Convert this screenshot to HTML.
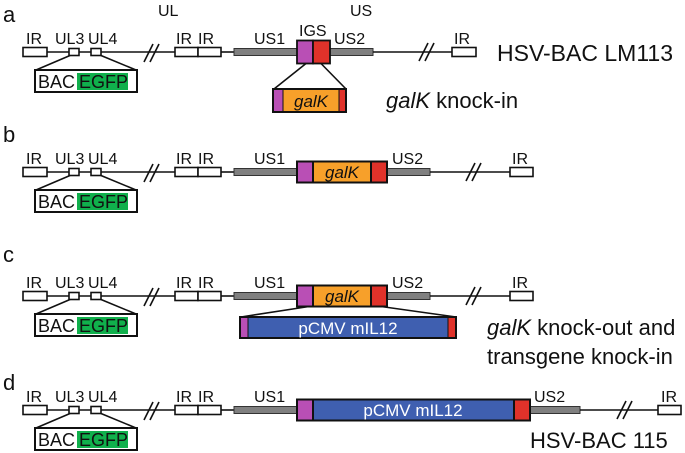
<!DOCTYPE html>
<html><head><meta charset="utf-8"><style>
body{margin:0;background:#fff}
svg{display:block;font-family:"Liberation Sans",sans-serif}
</style></head><body>
<svg width="685" height="453" viewBox="0 0 685 453" xmlns="http://www.w3.org/2000/svg">
<defs>
<g id="left">
  <line x1="47" y1="0" x2="175" y2="0" stroke="#111" stroke-width="1.6"/>
  <rect x="23" y="-4.5" width="24" height="9" fill="#fff" stroke="#111" stroke-width="1.6"/>
  <rect x="69" y="-3.5" width="10" height="7" fill="#fff" stroke="#111" stroke-width="1.6"/>
  <rect x="91" y="-3.5" width="10" height="7" fill="#fff" stroke="#111" stroke-width="1.6"/>
  <line x1="144" y1="10" x2="153" y2="-8" stroke="#111" stroke-width="1.6"/>
  <line x1="150" y1="10" x2="159" y2="-8" stroke="#111" stroke-width="1.6"/>
  <rect x="175" y="-4.5" width="23" height="9" fill="#fff" stroke="#111" stroke-width="1.6"/>
  <rect x="198" y="-4.5" width="23" height="9" fill="#fff" stroke="#111" stroke-width="1.6"/>
  <line x1="221" y1="0" x2="234" y2="0" stroke="#111" stroke-width="1.6"/>
  <rect x="234" y="-3.5" width="63" height="7" fill="#808080" stroke="#333" stroke-width="1"/>
  <line x1="70" y1="3.5" x2="36" y2="18" stroke="#111" stroke-width="1.6"/>
  <line x1="101" y1="3.5" x2="136" y2="18" stroke="#111" stroke-width="1.6"/>
  <rect x="35" y="18" width="102" height="22" fill="#fff" stroke="#111" stroke-width="2"/>
  <rect x="77" y="21" width="51" height="17" fill="#10b04c"/>
  <text x="38" y="36" font-size="18" fill="#111">BAC</text>
  <text x="79" y="36" font-size="18" fill="#111">EGFP</text>
  <g font-size="16" fill="#111">
  <text x="26" y="-8">IR</text><text x="55" y="-8">UL3</text><text x="88" y="-8">UL4</text>
  <text x="176" y="-8">IR</text><text x="198" y="-8">IR</text><text x="254" y="-8">US1</text>
  </g>
</g>
</defs>
<g font-size="22" fill="#111"><text x="3" y="22">a</text><text x="3" y="142">b</text><text x="3" y="262">c</text><text x="3" y="390">d</text></g>

<!-- a -->
<g transform="translate(0,52)"><use href="#left"/>
  <rect x="330" y="-3.5" width="43" height="7" fill="#808080" stroke="#333" stroke-width="1"/>
  <line x1="373" y1="0" x2="452" y2="0" stroke="#111" stroke-width="1.6"/>
  <line x1="419" y1="9" x2="428" y2="-9" stroke="#111" stroke-width="1.6"/>
  <line x1="425" y1="9" x2="434" y2="-9" stroke="#111" stroke-width="1.6"/>
  <rect x="452" y="-4.5" width="24" height="9" fill="#fff" stroke="#111" stroke-width="1.6"/>
  <rect x="297" y="-11.5" width="16" height="23" fill="#b94fb5" stroke="#111" stroke-width="1.8"/>
  <rect x="313" y="-11.5" width="17" height="23" fill="#e0322a" stroke="#111" stroke-width="1.8"/>
  <line x1="306" y1="11.5" x2="274" y2="37" stroke="#111" stroke-width="1.6"/>
  <line x1="321" y1="11.5" x2="346" y2="37" stroke="#111" stroke-width="1.6"/>
  <rect x="273" y="37" width="73" height="23" fill="#f7a02a" stroke="#111" stroke-width="2"/>
  <rect x="274" y="38" width="9" height="21" fill="#b94fb5"/>
  <rect x="339" y="38" width="6" height="21" fill="#e0322a"/>
  <line x1="283" y1="38" x2="283" y2="59" stroke="#111"/><line x1="339" y1="38" x2="339" y2="59" stroke="#111"/>
  <text x="311" y="55" font-size="17" font-style="italic" text-anchor="middle" fill="#111">galK</text>
  <g font-size="16" fill="#111"><text x="334" y="-8">US2</text><text x="454" y="-8">IR</text>
  <text x="299" y="-16">IGS</text><text x="158" y="-36">UL</text><text x="350" y="-36">US</text></g>
  <text x="497" y="9" font-size="23" fill="#111">HSV-BAC LM113</text>
  <text x="386" y="56" font-size="22" fill="#111"><tspan font-style="italic">galK</tspan> knock-in</text>
</g>

<!-- b -->
<g transform="translate(0,172)"><use href="#left"/>
  <rect x="387" y="-3.5" width="43" height="7" fill="#808080" stroke="#333" stroke-width="1"/>
  <line x1="430" y1="0" x2="510" y2="0" stroke="#111" stroke-width="1.6"/>
  <line x1="466" y1="9" x2="475" y2="-9" stroke="#111" stroke-width="1.6"/>
  <line x1="472" y1="9" x2="481" y2="-9" stroke="#111" stroke-width="1.6"/>
  <rect x="510" y="-4.5" width="23" height="9" fill="#fff" stroke="#111" stroke-width="1.6"/>
  <rect x="297" y="-10.5" width="90" height="21" fill="#f7a02a" stroke="#111" stroke-width="2"/>
  <rect x="297" y="-10.5" width="16" height="21" fill="#b94fb5" stroke="#111" stroke-width="2"/>
  <rect x="371" y="-10.5" width="16" height="21" fill="#e0322a" stroke="#111" stroke-width="2"/>
  <text x="342" y="6" font-size="17" font-style="italic" text-anchor="middle" fill="#111">galK</text>
  <g font-size="16" fill="#111"><text x="392" y="-8">US2</text><text x="512" y="-8">IR</text></g>
</g>

<!-- c -->
<g transform="translate(0,296)"><use href="#left"/>
  <rect x="387" y="-3.5" width="43" height="7" fill="#808080" stroke="#333" stroke-width="1"/>
  <line x1="430" y1="0" x2="510" y2="0" stroke="#111" stroke-width="1.6"/>
  <line x1="466" y1="9" x2="475" y2="-9" stroke="#111" stroke-width="1.6"/>
  <line x1="472" y1="9" x2="481" y2="-9" stroke="#111" stroke-width="1.6"/>
  <rect x="510" y="-4.5" width="23" height="9" fill="#fff" stroke="#111" stroke-width="1.6"/>
  <rect x="297" y="-10.5" width="90" height="21" fill="#f7a02a" stroke="#111" stroke-width="2"/>
  <rect x="297" y="-10.5" width="16" height="21" fill="#b94fb5" stroke="#111" stroke-width="2"/>
  <rect x="371" y="-10.5" width="16" height="21" fill="#e0322a" stroke="#111" stroke-width="2"/>
  <text x="342" y="6" font-size="17" font-style="italic" text-anchor="middle" fill="#111">galK</text>
  <g font-size="16" fill="#111"><text x="392" y="-8">US2</text><text x="512" y="-8">IR</text></g>
  <line x1="309" y1="10.5" x2="241" y2="21" stroke="#111" stroke-width="1.6"/>
  <line x1="381" y1="10.5" x2="456" y2="21" stroke="#111" stroke-width="1.6"/>
  <rect x="240" y="21" width="216" height="21" fill="#3f5fb0" stroke="#111" stroke-width="2"/>
  <rect x="241" y="22" width="7" height="19" fill="#b94fb5"/>
  <rect x="448" y="22" width="7" height="19" fill="#e0322a"/>
  <line x1="248" y1="22" x2="248" y2="41" stroke="#111"/><line x1="448" y1="22" x2="448" y2="41" stroke="#111"/>
  <text x="348" y="38" font-size="17" text-anchor="middle" fill="#fff">pCMV mIL12</text>
  <text x="487" y="39" font-size="22" fill="#111"><tspan font-style="italic">galK</tspan> knock-out and</text>
  <text x="487" y="68" font-size="22" fill="#111">transgene knock-in</text>
</g>

<!-- d -->
<g transform="translate(0,410)"><use href="#left"/>
  <rect x="530" y="-3.5" width="50" height="7" fill="#808080" stroke="#333" stroke-width="1"/>
  <line x1="580" y1="0" x2="658" y2="0" stroke="#111" stroke-width="1.6"/>
  <line x1="617" y1="9" x2="626" y2="-9" stroke="#111" stroke-width="1.6"/>
  <line x1="623" y1="9" x2="632" y2="-9" stroke="#111" stroke-width="1.6"/>
  <rect x="658" y="-4.5" width="23" height="9" fill="#fff" stroke="#111" stroke-width="1.6"/>
  <rect x="297" y="-10.5" width="233" height="21" fill="#3f5fb0" stroke="#111" stroke-width="2"/>
  <rect x="297" y="-10.5" width="16" height="21" fill="#b94fb5" stroke="#111" stroke-width="2"/>
  <rect x="514" y="-10.5" width="16" height="21" fill="#e0322a" stroke="#111" stroke-width="2"/>
  <text x="413" y="6" font-size="17" text-anchor="middle" fill="#fff">pCMV mIL12</text>
  <g font-size="16" fill="#111"><text x="534" y="-8">US2</text><text x="661" y="-8">IR</text></g>
  <text x="530" y="38" font-size="22" fill="#111">HSV-BAC 115</text>
</g>
</svg>
</body></html>
